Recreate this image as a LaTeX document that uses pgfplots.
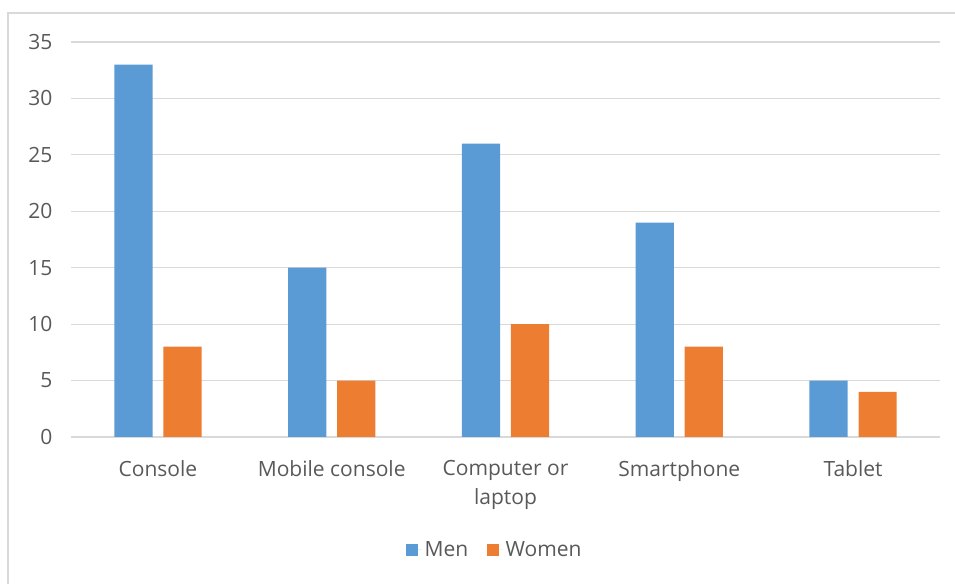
\documentclass[border=0pt]{standalone}
\usepackage{pgfplots}
\pgfplotsset{compat=1.18}
\usepackage{fontspec}
\setmainfont{Open Sans}
\definecolor{men}{HTML}{5B9BD5}
\definecolor{women}{HTML}{ED7D31}
\definecolor{txt}{HTML}{595959}
\definecolor{grd}{HTML}{D9D9D9}

\begin{document}
\begin{tikzpicture}
% page = 955x584 px, 1px = 0.75pt
\path[use as bounding box] (0pt,0pt) rectangle (716.25pt,438pt);
\draw[grd, line width=1.5pt] (6pt,0pt) -- (6pt,428.25pt) -- (716.25pt,428.25pt);
\begin{axis}[
    at={(53.25pt,110.25pt)}, anchor=south west,
    scale only axis, width=651.75pt, height=296.25pt,
    xmin=-0.5, xmax=4.5, ymin=0, ymax=35,
    ytick={0,5,...,35},
    xtick={0,...,4},
    xticklabels={Console, Mobile console, {Computer or\\laptop}, Smartphone, Tablet},
    axis line style={draw=none},
    major tick length=0pt,
    ymajorgrids, major grid style={grd, line width=0.8pt},
    /pgf/number format/assume math mode=true,
    tick label style={font=\fontsize{15.75}{21.75}\selectfont, text=txt},
    yticklabel style={xshift=-10.5pt},
    xticklabel style={align=center, yshift=-14pt},
    legend style={at={(0.488,-0.286)}, anchor=center, draw=none,
        font=\fontsize{15.75}{19}\selectfont, text=txt,
        legend columns=2,
        /tikz/every even column/.append style={column sep=12pt}},
    legend image code/.code={\fill[#1] (0pt,-4.5pt) rectangle (9pt,4.5pt);
        \path (9pt,0pt) -- (12pt,0pt);},
]
\addplot[ybar, fill=men, draw=none, bar width=0.22, bar shift=-0.141]
    coordinates {(0,33) (1,15) (2,26) (3,19) (4,5)};
\addplot[ybar, fill=women, draw=none, bar width=0.22, bar shift=0.141]
    coordinates {(0,8) (1,5) (2,10) (3,8) (4,4)};
\legend{Men, Women}
\end{axis}
\end{tikzpicture}
\end{document}
